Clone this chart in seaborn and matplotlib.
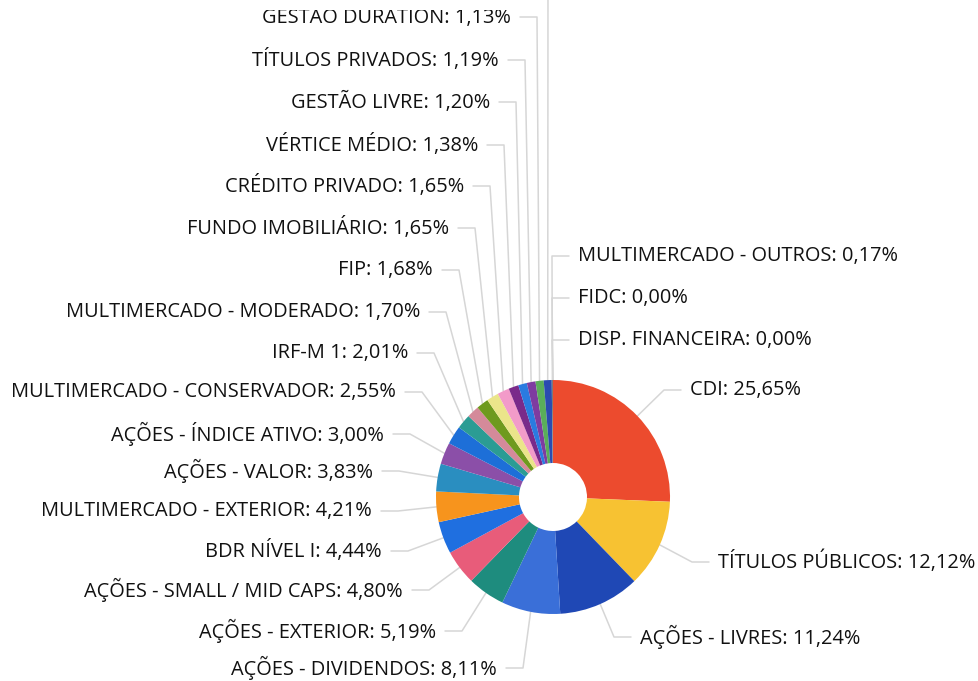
import numpy as np
import matplotlib; matplotlib.use("Agg")
import matplotlib.pyplot as plt
from matplotlib.patches import Rectangle
import seaborn as sns

# ── DATA (clockwise from 12 o'clock) ──────────────────────────────────────────
categories = [
    "CDI", "TÍTULOS PÚBLICOS", "AÇÕES - LIVRES", "AÇÕES - DIVIDENDOS",
    "AÇÕES - EXTERIOR", "AÇÕES - SMALL / MID CAPS", "BDR NÍVEL I",
    "MULTIMERCADO - EXTERIOR", "AÇÕES - VALOR", "AÇÕES - ÍNDICE ATIVO",
    "MULTIMERCADO - CONSERVADOR", "IRF-M 1", "MULTIMERCADO - MODERADO", "FIP",
    "FUNDO IMOBILIÁRIO", "CRÉDITO PRIVADO", "VÉRTICE MÉDIO", "GESTÃO LIVRE",
    "TÍTULOS PRIVADOS", "GESTÃO DURATION", "", "MULTIMERCADO - OUTROS",
    "FIDC", "DISP. FINANCEIRA",
]
shares = [25.65, 12.12, 11.24, 8.11, 5.19, 4.80, 4.44, 4.21, 3.83, 3.00,
          2.55, 2.01, 1.70, 1.68, 1.65, 1.65, 1.38, 1.20, 1.19, 1.13,
          1.10, 0.17, 0.00, 0.00]
colors = ["#EC4B2E", "#F7C232", "#1F48B5", "#3A6FD8", "#1E8C7E", "#E85C7A",
          "#1F6FE0", "#F7941D", "#2A8EC0", "#8B4FA8", "#1D6FD8", "#2B9C94",
          "#D48A9A", "#6E9A1E", "#EBE58A", "#F29BC9", "#7A2A8A", "#2A7BE0",
          "#7E3CA0", "#5AAE5A", "#2A4BB0", "#7A7A7A", "#999999", "#999999"]

# label anchors in pixel space (x = text edge next to the leader line)
label_side = ["R", "R", "R", "L", "L", "L", "L", "L", "L", "L", "L", "L",
              "L", "L", "L", "L", "L", "L", "L", "L", "L", "R", "R", "R"]
label_x = [690, 718, 640, 497, 436, 403, 382, 372, 373, 384, 396, 408,
           420, 433, 449, 464, 478, 490, 499, 511, 522, 578, 578, 578]
label_y = [390, 562, 637, 668, 631, 590, 551, 511, 471, 434, 392, 353,
           312, 270, 228, 186, 145, 102, 60, 17, -30, 256, 298, 340]

CX, CY, R, R_IN = 553, 497, 117, 34

sns.set_theme(style="white")
plt.rcParams["font.family"] = ["Open Sans", "DejaVu Sans"]

fig = plt.figure(figsize=(9.79, 6.81), dpi=100)
ax = fig.add_axes([0, 0, 1, 1])

# y axis runs downward, so counterclock=True in data turns clockwise on screen
wedges, _ = ax.pie(shares, colors=colors, startangle=-90, counterclock=True,
                   center=(CX, CY), radius=R, normalize=True,
                   wedgeprops=dict(width=R - R_IN, linewidth=0))

for w, name, val, side, tx, ty in zip(wedges, categories, shares,
                                      label_side, label_x, label_y):
    ang = np.deg2rad((w.theta1 + w.theta2) / 2)
    px, py = CX + R * np.cos(ang), CY + R * np.sin(ang)
    sgn = 1 if side == "L" else -1
    ex, sx = tx + sgn * 26, tx + sgn * 9
    ax.plot([px, ex, sx], [py, ty, ty], color="#d6d6d6", lw=1.1,
            solid_capstyle="round", zorder=0)
    if name:
        txt = f"{name}: " + f"{val:.2f}%".replace(".", ",")
        ax.text(tx, ty, txt, ha="right" if side == "L" else "left",
                va="center", fontsize=14.4, color="#111111")

# the source screenshot is cropped just through the top label
ax.add_patch(Rectangle((150, -5), 380, 15, facecolor="white",
                       edgecolor="none", zorder=5))

ax.set_xlim(0, 979)
ax.set_ylim(681, 0)
ax.set_aspect("equal")
ax.axis("off")
fig.savefig("out.png", dpi=100, facecolor="white")
